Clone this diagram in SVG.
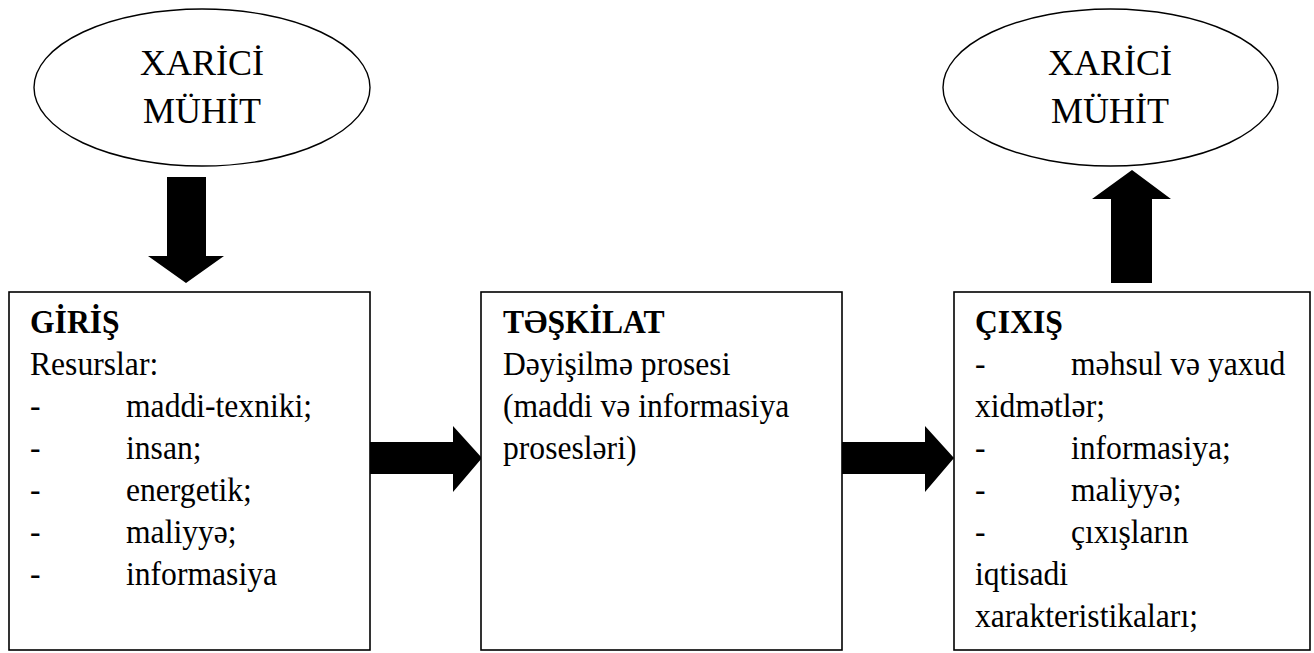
<svg xmlns="http://www.w3.org/2000/svg" width="1314" height="653" viewBox="0 0 1314 653">
<style>
.bg{fill:#fff}
.ell{fill:#fff;stroke:#000;stroke-width:1.4}
.box{fill:#fff;stroke:#000;stroke-width:1.6}
.arr{fill:#000;stroke:none}
.et{font-family:'Liberation Serif','Times New Roman',serif;font-size:36px;fill:#000;text-anchor:middle}
.t{font-family:'Liberation Serif','Times New Roman',serif;font-size:34px;fill:#000}
.b{font-weight:bold}
</style>
<rect class="bg" x="0" y="0" width="1314" height="653"/>
<g id="env-left">
<ellipse class="ell" cx="202" cy="87.5" rx="168" ry="78.5"/>
<text class="et" x="202" y="75">XARİCİ</text>
<text class="et" x="202" y="123">MÜHİT</text>
</g>
<g id="env-right">
<ellipse class="ell" cx="1110.5" cy="87.5" rx="167.5" ry="78.5"/>
<text class="et" x="1110" y="75">XARİCİ</text>
<text class="et" x="1110" y="123">MÜHİT</text>
</g>
<g id="connectors">
<polygon class="arr" points="167,177 206,177 206,256 224,256 186,283 148,256 167,256"/>
<polygon class="arr" points="1132,170 1171,199 1152,199 1152,283 1111,283 1111,199 1092,199"/>
<polygon class="arr" points="370,442 453,442 453,426 482,458 453,492 453,474 370,474"/>
<polygon class="arr" points="842,442 925,442 925,426 954,458 925,492 925,474 842,474"/>
</g>
<g id="giris">
<rect class="box" x="9" y="292" width="361" height="358"/>
<text class="t b" transform="translate(30 333) scale(0.93 1)">GİRİŞ</text>
<text class="t" transform="translate(30 375) scale(0.93 1)">Resurslar:</text>
<text class="t" transform="translate(30 417) scale(0.93 1)">-</text>
<text class="t" transform="translate(126 417) scale(0.93 1)">maddi-texniki;</text>
<text class="t" transform="translate(30 459) scale(0.93 1)">-</text>
<text class="t" transform="translate(126 459) scale(0.93 1)">insan;</text>
<text class="t" transform="translate(30 501) scale(0.93 1)">-</text>
<text class="t" transform="translate(126 501) scale(0.93 1)">energetik;</text>
<text class="t" transform="translate(30 543) scale(0.93 1)">-</text>
<text class="t" transform="translate(126 543) scale(0.93 1)">maliyyə;</text>
<text class="t" transform="translate(30 585) scale(0.93 1)">-</text>
<text class="t" transform="translate(126 585) scale(0.93 1)">informasiya</text>
</g>
<g id="teskilat">
<rect class="box" x="481" y="292" width="361" height="358"/>
<text class="t b" transform="translate(503 333) scale(0.93 1)">TƏŞKİLAT</text>
<text class="t" transform="translate(503 375) scale(0.93 1)">Dəyişilmə prosesi</text>
<text class="t" transform="translate(503 417) scale(0.93 1)">(maddi və informasiya</text>
<text class="t" transform="translate(503 459) scale(0.93 1)">prosesləri)</text>
</g>
<g id="cixis">
<rect class="box" x="954" y="292" width="356" height="358"/>
<text class="t b" transform="translate(975 333) scale(0.93 1)">ÇIXIŞ</text>
<text class="t" transform="translate(975 375) scale(0.93 1)">-</text>
<text class="t" transform="translate(1071 375) scale(0.93 1)">məhsul və yaxud</text>
<text class="t" transform="translate(975 417) scale(0.93 1)">xidmətlər;</text>
<text class="t" transform="translate(975 459) scale(0.93 1)">-</text>
<text class="t" transform="translate(1071 459) scale(0.93 1)">informasiya;</text>
<text class="t" transform="translate(975 501) scale(0.93 1)">-</text>
<text class="t" transform="translate(1071 501) scale(0.93 1)">maliyyə;</text>
<text class="t" transform="translate(975 543) scale(0.93 1)">-</text>
<text class="t" transform="translate(1071 543) scale(0.93 1)">çıxışların</text>
<text class="t" transform="translate(975 585) scale(0.93 1)">iqtisadi</text>
<text class="t" transform="translate(975 627) scale(0.93 1)">xarakteristikaları;</text>
</g>
</svg>
